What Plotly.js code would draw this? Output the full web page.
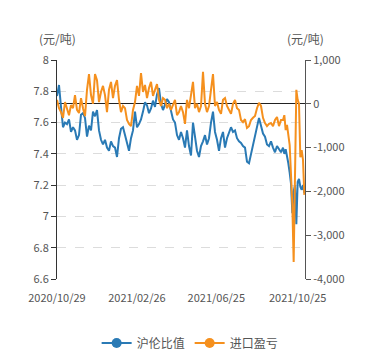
<!DOCTYPE html>
<html>
<head>
<meta charset="utf-8">
<script src="https://cdn.plot.ly/plotly-3.0.1.min.js"></script>
<style>html,body{margin:0;padding:0;background:#fff;}#chart{width:378px;height:360px;}</style>
</head>
<body>
<div id="chart"></div>
<script>
const dates = [
"2020-10-29","2020-11-01","2020-11-04","2020-11-07","2020-11-10","2020-11-13","2020-11-16","2020-11-19","2020-11-22","2020-11-25",
"2020-11-28","2020-12-01","2020-12-04","2020-12-07","2020-12-10","2020-12-13","2020-12-16","2020-12-19","2020-12-22","2020-12-25",
"2020-12-28","2020-12-31","2021-01-03","2021-01-06","2021-01-09","2021-01-12","2021-01-15","2021-01-18","2021-01-21","2021-01-24",
"2021-01-27","2021-01-30","2021-02-02","2021-02-05","2021-02-08","2021-02-11","2021-02-14","2021-02-17","2021-02-20","2021-02-23",
"2021-02-26","2021-03-01","2021-03-04","2021-03-07","2021-03-10","2021-03-13","2021-03-16","2021-03-19","2021-03-22","2021-03-25",
"2021-03-28","2021-03-31","2021-04-03","2021-04-06","2021-04-09","2021-04-12","2021-04-15","2021-04-18","2021-04-21","2021-04-24",
"2021-04-27","2021-04-30","2021-05-03","2021-05-06","2021-05-09","2021-05-12","2021-05-15","2021-05-18","2021-05-21","2021-05-24",
"2021-05-27","2021-05-30","2021-06-02","2021-06-05","2021-06-08","2021-06-11","2021-06-14","2021-06-17","2021-06-20","2021-06-23",
"2021-06-26","2021-06-29","2021-07-02","2021-07-05","2021-07-08","2021-07-11","2021-07-14","2021-07-17","2021-07-20","2021-07-23",
"2021-07-26","2021-07-29","2021-08-01","2021-08-04","2021-08-07","2021-08-10","2021-08-13","2021-08-16","2021-08-19","2021-08-22",
"2021-08-25","2021-08-28","2021-08-31","2021-09-03","2021-09-06","2021-09-09","2021-09-12","2021-09-15","2021-09-18","2021-09-21",
"2021-09-24","2021-09-27","2021-09-30","2021-10-03","2021-10-05","2021-10-07","2021-10-09","2021-10-11","2021-10-13","2021-10-15",
"2021-10-17","2021-10-19","2021-10-21","2021-10-23","2021-10-25","2021-10-27","2021-10-29","2021-10-31","2021-11-02","2021-11-04"
];

// 沪伦比值 (left axis)
const ratio = [
7.77,7.84,7.70,7.57,7.60,7.59,7.62,7.54,7.57,7.55,
7.49,7.52,7.65,7.66,7.63,7.51,7.58,7.55,7.67,7.64,
7.68,7.55,7.49,7.46,7.49,7.44,7.42,7.48,7.45,7.44,
7.38,7.50,7.56,7.57,7.52,7.46,7.42,7.50,7.55,7.67,
7.57,7.59,7.62,7.67,7.73,7.71,7.66,7.69,7.74,7.70,
7.78,7.82,7.72,7.68,7.71,7.75,7.73,7.68,7.62,7.60,
7.52,7.49,7.54,7.50,7.44,7.55,7.45,7.39,7.60,7.51,
7.42,7.38,7.45,7.48,7.52,7.46,7.50,7.60,7.67,7.54,
7.49,7.42,7.50,7.54,7.44,7.50,7.53,7.57,7.54,7.55,
7.50,7.48,7.47,7.45,7.44,7.35,7.34,7.40,7.47,7.51,
7.57,7.63,7.58,7.53,7.51,7.46,7.45,7.48,7.44,7.41,
7.45,7.43,7.41,7.44,7.40,7.43,7.39,7.34,7.28,7.21,
7.02,7.16,7.20,6.95,7.22,7.24,7.19,7.17,7.20,7.15
];

// 进口盈亏 (right axis, 元/吨)
const profit = [
90,-100,-190,-320,40,-140,-260,-30,-100,200,
-140,-210,130,-100,-280,320,680,200,0,680,
540,40,270,410,200,-190,320,500,130,410,
540,90,-190,-50,-100,-370,-460,-510,-140,40,
410,180,700,270,430,130,360,500,180,320,
450,90,-50,130,90,-100,0,-140,0,90,
-260,-190,-50,-190,-460,90,-100,180,500,-100,
0,-190,-50,730,0,-190,-50,320,680,-50,
40,-140,-230,90,130,-50,-140,-230,0,90,
-100,-140,-370,-420,-350,-550,-510,-370,-320,-280,
-100,20,-50,-320,-440,-510,-460,-440,-510,-370,
-300,-510,-370,-370,-260,-600,-480,-670,-940,-1620,
-2310,-3610,-1740,320,90,0,-1220,-1060,-1280,-2080
];

const seriesNames = ["沪伦比值","进口盈亏"];
const seriesColors = ["#2a7ab5","#f5901e"];
const xTickVals = ["2020-10-29","2021-02-26","2021-06-25","2021-10-25"];
const xTickText = ["2020/10/29","2021/02/26","2021/06/25","2021/10/25"];
const y2TickVals = [1000,0,-1000,-2000,-3000,-4000];
const y2TickText = ["1,000","0","-1,000","-2,000","-3,000","-4,000"];
const unitLabel = "(元/吨)";

const FONT = '"Noto Sans CJK SC", "Noto Sans", sans-serif';

const traces = [
  {x: dates, y: ratio, type: 'scatter', mode: 'lines', yaxis: 'y',
   line: {color: seriesColors[0], width: 2}, showlegend: false, hoverinfo: 'skip'},
  {x: dates, y: profit, type: 'scatter', mode: 'lines', yaxis: 'y2',
   line: {color: seriesColors[1], width: 2}, showlegend: false, hoverinfo: 'skip'},
  {x: [null], y: [null], type: 'scatter', mode: 'lines+markers', name: seriesNames[0],
   line: {color: seriesColors[0], width: 2}, marker: {color: seriesColors[0], size: 10}},
  {x: [null], y: [null], type: 'scatter', mode: 'lines+markers', name: seriesNames[1], yaxis: 'y2',
   line: {color: seriesColors[1], width: 2}, marker: {color: seriesColors[1], size: 10}}
];

const layout = {
  width: 378, height: 360,
  margin: {l: 57, r: 73, t: 60, b: 81, autoexpand: false},
  paper_bgcolor: '#fff', plot_bgcolor: '#fff',
  font: {family: FONT, size: 11, color: '#555'},
  xaxis: {
    type: 'date', range: ['2020-10-29','2021-11-05'],
    tickvals: xTickVals, ticktext: xTickText,
    showgrid: false, zeroline: false, showline: false,
    ticks: 'outside', ticklen: 9, tickcolor: 'rgba(0,0,0,0)',
    tickfont: {size: 11, color: '#555'}, fixedrange: true
  },
  yaxis: {
    range: [6.6, 8], tick0: 6.6, dtick: 0.2,
    showline: true, linecolor: '#333', linewidth: 1,
    ticks: 'outside', ticklen: 5, tickcolor: '#333',
    showgrid: true, gridcolor: '#dcdcdc', griddash: 'dash',
    zeroline: false, tickfont: {size: 11, color: '#555'}
  },
  yaxis2: {
    overlaying: 'y', side: 'right', range: [-4000, 1000],
    tickvals: y2TickVals, ticktext: y2TickText,
    showline: true, linecolor: '#555', linewidth: 1,
    ticks: 'outside', ticklen: 5, tickcolor: '#555',
    showgrid: false, zeroline: true, zerolinecolor: '#222', zerolinewidth: 1,
    tickfont: {size: 11, color: '#555'}
  },
  legend: {
    orientation: 'h', xref: 'container', yref: 'container',
    x: 0.503, xanchor: 'center', y: 0.047, yanchor: 'middle',
    font: {size: 12, color: '#555'}, itemwidth: 30
  },
  annotations: [
    {text: unitLabel, xref: 'paper', yref: 'paper', x: 0, y: 1.096, xanchor: 'center', yanchor: 'middle',
     showarrow: false, font: {size: 12, color: '#555'}},
    {text: unitLabel, xref: 'paper', yref: 'paper', x: 1, y: 1.096, xanchor: 'center', yanchor: 'middle',
     showarrow: false, font: {size: 12, color: '#555'}}
  ]
};

Plotly.newPlot('chart', traces, layout, {displayModeBar: false, staticPlot: true});
</script>
</body>
</html>
